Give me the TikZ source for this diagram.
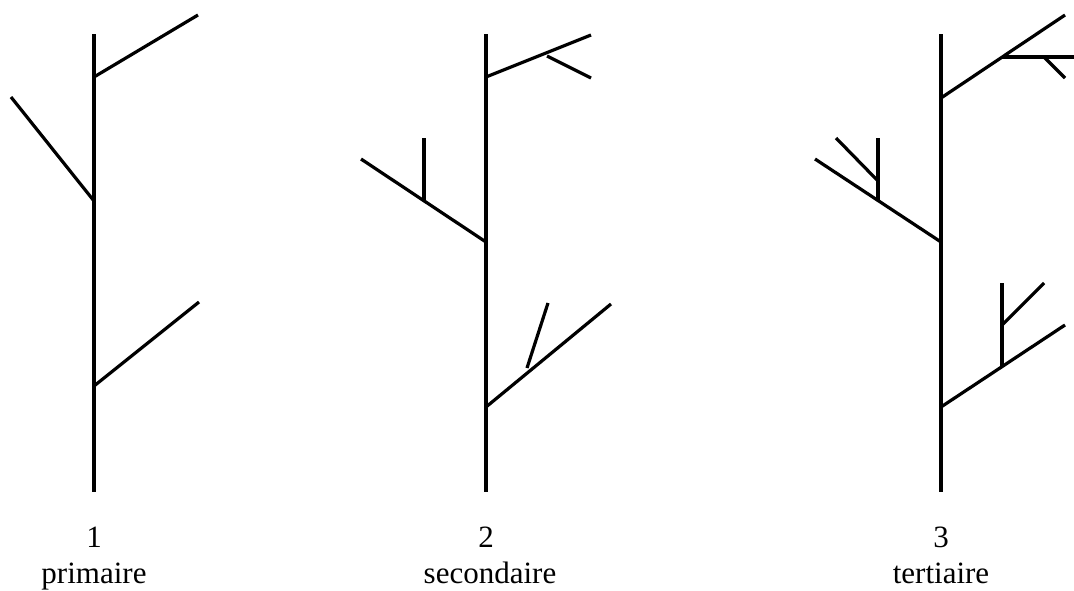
\documentclass[tikz,border=0pt]{standalone}
\usepackage{fontspec}
\setmainfont{Liberation Serif}
\begin{document}
\begin{tikzpicture}[x=1pt,y=-1pt,
  br/.style={line width=3.2pt,black},
  lbl/.style={anchor=base,inner sep=0pt,font=\fontsize{31}{36}\selectfont}]
\useasboundingbox (0,0) rectangle (1074,590);
% tree 1
\draw[br] (94,34) -- (94,492);
\draw[br] (94,77) -- (198,15);
\draw[br] (94,201) -- (11,97);
\draw[br] (94,386) -- (199,302);
% tree 2
\draw[br] (486,34) -- (486,492);
\draw[br] (486,77) -- (591,35);
\draw[br] (547,56) -- (591,78);
\draw[br] (486,242) -- (361,159);
\draw[br] (424,201) -- (424,138);
\draw[br] (486,407) -- (611,304);
\draw[br] (527,368) -- (548,303);
% tree 3
\draw[br] (941,34) -- (941,492);
\draw[br] (941,98) -- (1065,15);
\draw[br] (1002,57) -- (1074,57);
\draw[br] (1044,57) -- (1065,78);
\draw[br] (941,242) -- (815,159);
\draw[br] (878,201) -- (878,138);
\draw[br] (878,181) -- (836,138);
\draw[br] (941,407) -- (1065,325);
\draw[br] (1002,367) -- (1002,283);
\draw[br] (1002,325) -- (1044,283);
% labels
\node[lbl] (n1) at (94,547) {1};
\node[lbl] (t1) at (94,583) {primaire};
\node[lbl] (n2) at (486,547) {2};
\node[lbl] (t2) at (490,583) {secondaire};
\node[lbl] (n3) at (941,547) {3};
\node[lbl] (t3) at (941,583) {tertiaire};
\end{tikzpicture}
\end{document}
